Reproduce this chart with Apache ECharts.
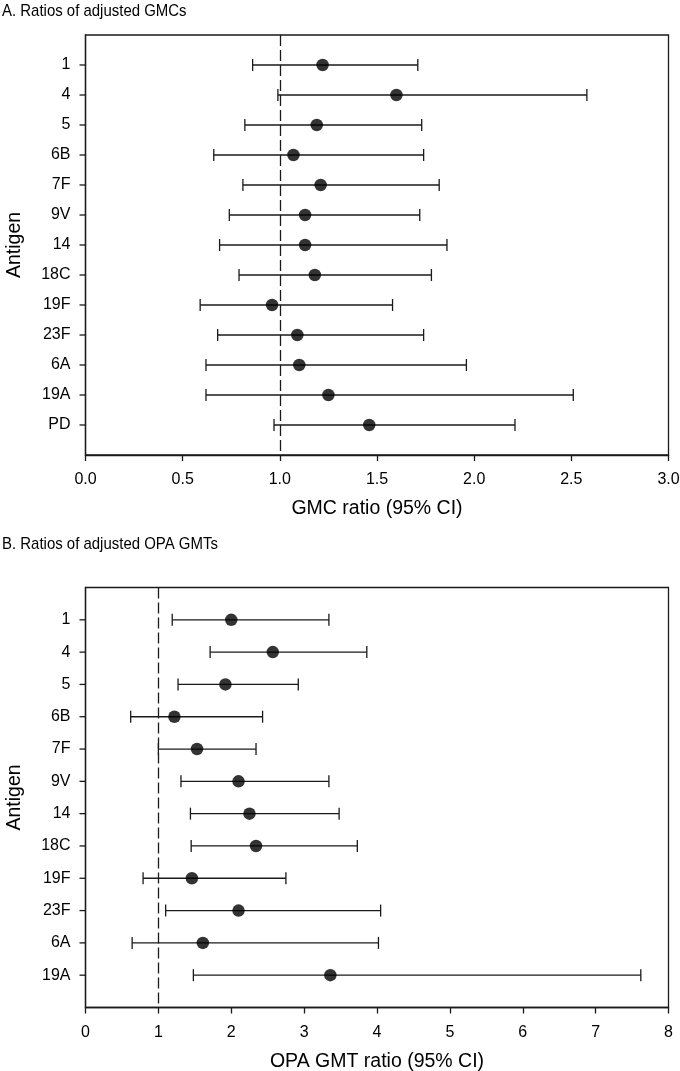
<!DOCTYPE html>
<html>
<head>
<meta charset="utf-8">
<script src="https://cdn.jsdelivr.net/npm/echarts@6/dist/echarts.min.js"></script>
<style>
html,body{margin:0;padding:0;background:#fff;}
#chart{width:680px;height:1071px;}
</style>
</head>
<body>
<div id="chart"></div>
<script>
// Panel A: GMC ratios
var antigensA = ['1','4','5','6B','7F','9V','14','18C','19F','23F','6A','19A','PD'];
var gmcPoint  = [1.22, 1.60, 1.19, 1.07, 1.21, 1.13, 1.13, 1.18, 0.96, 1.09, 1.10, 1.25, 1.46];
var gmcLower  = [0.86, 0.99, 0.82, 0.66, 0.81, 0.74, 0.69, 0.79, 0.59, 0.68, 0.62, 0.62, 0.97];
var gmcUpper  = [1.71, 2.58, 1.73, 1.74, 1.82, 1.72, 1.86, 1.78, 1.58, 1.74, 1.96, 2.51, 2.21];
var gmcTicks  = ['0.0','0.5','1.0','1.5','2.0','2.5','3.0'];

// Panel B: OPA GMT ratios
var antigensB = ['1','4','5','6B','7F','9V','14','18C','19F','23F','6A','19A'];
var opaPoint  = [2.00, 2.57, 1.92, 1.22, 1.53, 2.10, 2.25, 2.34, 1.46, 2.10, 1.61, 3.36];
var opaLower  = [1.19, 1.71, 1.27, 0.62, 1.00, 1.31, 1.44, 1.45, 0.79, 1.10, 0.64, 1.48];
var opaUpper  = [3.34, 3.86, 2.92, 2.43, 2.34, 3.34, 3.48, 3.73, 2.75, 4.05, 4.02, 7.62];
var opaTicks  = ['0','1','2','3','4','5','6','7','8'];

var titleA = 'A. Ratios of adjusted GMCs';
var titleB = 'B. Ratios of adjusted OPA GMTs';

var FONT = 'Liberation Sans, Arial, sans-serif';
var LINE = '#1a1a1a';
var TICK = 6;

// category list padded with an empty slot at each end
function padded(cats){ return [''].concat(cats, ['']); }

function barData(lower, upper){
  return lower.map(function(l,i){ return [i+1, l, upper[i]]; });
}
function ptData(pts){
  return pts.map(function(p,i){ return [p, i+1]; });
}

function renderBar(params, api){
  var y = api.value(0);
  var a = api.coord([api.value(1), y]);
  var b = api.coord([api.value(2), y]);
  var h = 6;
  var st = {stroke: LINE, lineWidth: 1.3};
  return {type:'group', children:[
    {type:'line', shape:{x1:a[0],y1:a[1],x2:b[0],y2:b[1]}, style:st},
    {type:'line', shape:{x1:a[0],y1:a[1]-h,x2:a[0],y2:a[1]+h}, style:st},
    {type:'line', shape:{x1:b[0],y1:b[1]-h,x2:b[0],y2:b[1]+h}, style:st}
  ]};
}

function xAxisCfg(gi, max, interval, ticks, name){
  return {
    type:'value', gridIndex:gi, min:0, max:max, interval:interval, position:'bottom',
    name:name, nameLocation:'middle', nameGap:44,
    nameTextStyle:{fontFamily:FONT, fontSize:19.5, color:'#000'},
    axisLine:{show:true, lineStyle:{color:LINE, width:1.3}},
    axisTick:{show:true, length:TICK, lineStyle:{color:LINE, width:1.3}},
    axisLabel:{fontFamily:FONT, fontSize:16, color:'#000', margin:17,
      formatter:function(v){ return ticks[Math.round(v/interval)]; }},
    splitLine:{show:false}
  };
}
function yAxisCfg(gi, cats){
  var data = padded(cats);
  return {
    type:'category', gridIndex:gi, data:data, boundaryGap:false, inverse:true, position:'left',
    name:'Antigen', nameLocation:'middle', nameGap:61,
    nameTextStyle:{fontFamily:FONT, fontSize:19.5, color:'#000'},
    axisLine:{show:true, lineStyle:{color:LINE, width:1.3}},
    axisTick:{show:false},
    axisLabel:{fontFamily:FONT, fontSize:16, color:'#000', margin:15, interval:0},
    splitLine:{show:false}
  };
}

function panelSeries(idx, pts, lower, upper){
  return [
    {type:'line', xAxisIndex:idx, yAxisIndex:idx, data:[], silent:true,
     markLine:{silent:true, symbol:['none','none'], label:{show:false},
       lineStyle:{color:LINE, type:[11,4], width:1.3}, data:[{xAxis:1}]}},
    {type:'custom', xAxisIndex:idx, yAxisIndex:idx, renderItem:renderBar, silent:true,
     encode:{x:[1,2], y:0}, data:barData(lower, upper), z:3},
    {type:'scatter', xAxisIndex:idx, yAxisIndex:idx, symbol:'circle', symbolSize:12.5,
     itemStyle:{color:'#000'}, data:ptData(pts), z:5}
  ];
}

var titles = [
  {type:'text', left:2, top:3, scaleX:0.88,
   style:{text:titleA, fontSize:17, fontFamily:FONT, fill:'#000'}},
  {type:'text', left:2, top:536, scaleX:0.88,
   style:{text:titleB, fontSize:17, fontFamily:FONT, fill:'#000'}}
];

var option = {
  backgroundColor:'#fff',
  animation:false,
  graphic: titles,
  grid:[
    {left:85.5, right:11.5, top:35, height:420, show:true, borderColor:LINE, borderWidth:1.3,
     containLabel:false, outerBoundsMode:'none'},
    {left:85.5, right:11.5, top:587.5, height:420, show:true, borderColor:LINE, borderWidth:1.3,
     containLabel:false, outerBoundsMode:'none'}
  ],
  xAxis:[
    xAxisCfg(0, 3, 0.5, gmcTicks, 'GMC ratio (95% CI)'),
    xAxisCfg(1, 8, 1, opaTicks, 'OPA GMT ratio (95% CI)')
  ],
  yAxis:[
    yAxisCfg(0, antigensA),
    yAxisCfg(1, antigensB)
  ],
  series: panelSeries(0, gmcPoint, gmcLower, gmcUpper)
    .concat(panelSeries(1, opaPoint, opaLower, opaUpper))
};

var chart = echarts.init(document.getElementById('chart'), null, {renderer:'canvas'});
chart.setOption(option);

// y-axis tick marks placed through the chart's own scales
function yTickGraphics(gi, cats){
  var out = [];
  var left = chart.convertToPixel({xAxisIndex:gi}, 0);
  cats.forEach(function(c, i){
    var py = chart.convertToPixel({yAxisIndex:gi}, i+1);
    if (isFinite(left) && isFinite(py)) {
      out.push({type:'rect', z:100, silent:true,
        shape:{x:left-TICK, y:py-0.65, width:TICK, height:1.3},
        style:{fill:LINE}});
    }
  });
  return out;
}
chart.setOption({
  graphic: titles.concat(yTickGraphics(0, antigensA), yTickGraphics(1, antigensB))
});
</script>
</body>
</html>
